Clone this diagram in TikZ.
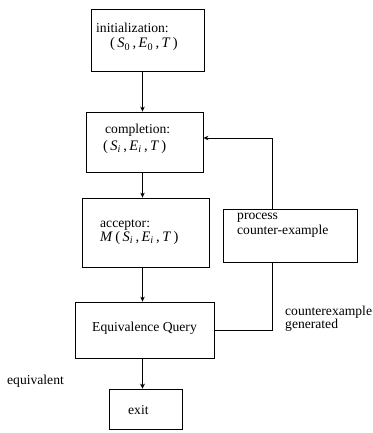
\documentclass[tikz,border=0pt]{standalone}
\usepackage{fontspec}
\setmainfont{Liberation Serif}
\usetikzlibrary{arrows.meta}
\begin{document}
\begin{tikzpicture}[x=1pt,y=-1pt,
  box/.style={draw,line width=0.8pt,inner sep=0pt,rectangle},
  txt/.style={anchor=base west,inner sep=0pt,font=\rmfamily\fontsize{13.6}{16}\selectfont},
  mth/.style={anchor=base west,inner sep=0pt,font=\rmfamily\fontsize{14.5}{17}\selectfont},
  conn/.style={line width=0.8pt},
  arr/.style={line width=0.8pt,-{Stealth[length=5pt,width=4.5pt]}},
  thickarr/.style={line width=1.5pt,-{Stealth[length=5pt,width=5pt]}}
]
\useasboundingbox (0,0) rectangle (372,433);
\newcommand{\tup}[2]{(\,\textit{S}\textsubscript{#1}\,,\,\textit{E}\textsubscript{#2}\,,\,\textit{T}\,)}
% boxes
\node[box,minimum width=113pt,minimum height=62pt] (init) at (147.5,40) {};
\node[box,minimum width=117pt,minimum height=60pt] (comp) at (144.5,142) {};
\node[box,minimum width=127pt,minimum height=69pt] (acc) at (145.5,232.5) {};
\node[box,minimum width=139pt,minimum height=56pt] (eq) at (144.5,330) {};
\node[box,minimum width=73pt,minimum height=40pt] (exit) at (145.5,409) {};
\node[box,minimum width=134pt,minimum height=53pt] (proc) at (290,235.5) {};
% texts
\node[txt] (t1) at (96,32.3) {initialization:};
\node[mth] (m1) at (110,48) {\tup{0}{0}};
\node[txt] (t2) at (105,133.3) {completion:};
\node[mth] (m2) at (103,150.5) {\tup{\textit{i}}{\textit{i}}};
\node[txt] (t3) at (100,227.7) {acceptor:};
\node[mth] (m3) at (100,241.7) {\textit{M}\,\tup{\textit{i}}{\textit{i}}};
\node[txt] (t4) at (92,331.7) {Equivalence Query};
\node[txt] (t5) at (128,414) {exit};
\node[txt] (t6) at (237,219) {process};
\node[txt] (t7) at (237,234) {counter-example};
\node[txt] (t8) at (7,384) {equivalent};
\node[txt] (t9) at (285,315) {counterexample};
\node[txt] (t10) at (285,328) {generated};
% coordinates
\coordinate (spine) at (142.5,0);
\coordinate (fbtop) at (272,138);
\coordinate (fbbot) at (272,330);
% connectors
\draw[arr] (init.south -| spine) -- (comp.north -| spine);
\draw[arr] (comp.south -| spine) -- (acc.north -| spine);
\draw[arr] (acc.south -| spine) -- (eq.north -| spine);
\draw[thickarr] (eq.south -| spine) -- (exit.north -| spine);
\draw[conn] (eq.east) -- (fbbot) -- (proc.south -| fbbot);
\draw[arr] (proc.north -| fbtop) -- (fbtop) -- (comp.east |- fbtop);
\end{tikzpicture}
\end{document}
